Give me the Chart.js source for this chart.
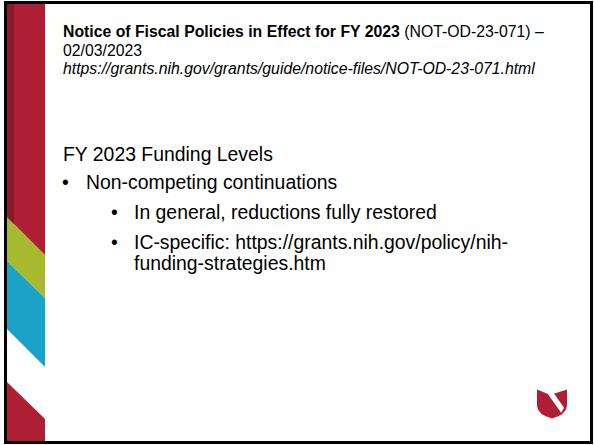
<!DOCTYPE html>
<html>
<head>
<meta charset="utf-8">
<script src="https://cdn.jsdelivr.net/npm/chart.js@4"></script>
<style>
  html, body { margin: 0; padding: 0; background: #fff; }
  body { width: 594px; height: 445px; position: relative; overflow: hidden;
         font-family: "Liberation Sans", Arial, sans-serif; color: #000; }
  .frame { position: absolute; left: 4px; top: 1px; width: 589px; height: 443px;
           border: 3px solid #000; box-sizing: border-box; }
  .stripe { position: absolute; left: 7px; top: 4px; width: 38px; height: 437px; }
  .t { position: absolute; white-space: nowrap; line-height: 1; }
  .head { font-size: 15.8px; }
  .body { font-size: 19.4px; }
  .logo { position: absolute; left: 537px; top: 389px; width: 30px; height: 30px; }
</style>
</head>
<body>
<div class="frame"></div>
<div class="stripe"><canvas id="stripe"></canvas></div>

<div class="t head" style="left:63px; top:23.6px;"><b>Notice of Fiscal Policies in Effect for FY 2023</b> (NOT-OD-23-071) –</div>
<div class="t head" style="left:63px; top:43px;">02/03/2023</div>
<div class="t head" style="left:63px; top:60.6px;"><i>https://grants.nih.gov/grants/guide/notice-files/NOT-OD-23-071.html</i></div>

<div class="t body" style="left:63px; top:144.6px;">FY 2023 Funding Levels</div>
<div class="t body" style="left:62px; top:172.6px;">•</div>
<div class="t body" style="left:86px; top:172.6px;">Non-competing continuations</div>
<div class="t body" style="left:111px; top:202.6px;">•</div>
<div class="t body" style="left:134px; top:202.6px;">In general, reductions fully restored</div>
<div class="t body" style="left:111px; top:232.6px;">•</div>
<div class="t body" style="left:134px; top:232.6px;">IC-specific: https://grants.nih.gov/policy/nih-</div>
<div class="t body" style="left:134px; top:253.6px;">funding-strategies.htm</div>

<svg class="logo" viewBox="0 0 31 30">
  <path d="M0,0 L12,5 L19,4 L31,0 L31,17 Q30,26 15.5,30 Q1,26 0,17 Z" fill="#B01E33"/>
  <path d="M11,4.5 L17,3.5 L28,19 L25,24 Z" fill="#fff"/>
</svg>

<script>
// stripe band edges, slide pixels: y at left edge / right edge of the stripe
const stripeX = [7, 45];
const stripeTop = 4;
const stripeBottom = 441;
const darkStripX = [7, 14];
const darkStripEdge = [217, 224];
const redGreenEdge = [217, 255];
const greenCyanEdge = [261, 298];
const cyanWhiteEdge = [329, 367];
const whiteRedEdge = [382, 419];

const RED = '#AE1F33';
const DARK_RED = '#8A1A29';
const GREEN = '#A7BA2F';
const CYAN = '#1CA2C6';

function edge(xs, ys) {
    return xs.map((x, i) => ({ x: x, y: ys[i] }));
}

function band(xs, ys, color, fill) {
    return {
        data: edge(xs, ys),
        borderWidth: 0,
        borderColor: color,
        backgroundColor: color,
        pointRadius: 0,
        tension: 0,
        fill: fill
    };
}

new Chart(document.getElementById('stripe'), {
    type: 'line',
    data: {
        datasets: [
            band(darkStripX, darkStripEdge, DARK_RED, { value: stripeTop }),
            band(stripeX, redGreenEdge, RED, { value: stripeTop }),
            band(stripeX, greenCyanEdge, GREEN, 1),
            band(stripeX, cyanWhiteEdge, CYAN, 2),
            band(stripeX, whiteRedEdge, RED, { value: stripeBottom })
        ]
    },
    options: {
        responsive: true,
        maintainAspectRatio: false,
        animation: false,
        layout: { padding: 0 },
        plugins: {
            legend: { display: false },
            tooltip: { enabled: false },
            title: { display: false }
        },
        scales: {
            x: { type: 'linear', display: false, min: stripeX[0], max: stripeX[1] },
            y: { type: 'linear', display: false, reverse: true, min: stripeTop, max: stripeBottom }
        }
    }
});
</script>
</body>
</html>
